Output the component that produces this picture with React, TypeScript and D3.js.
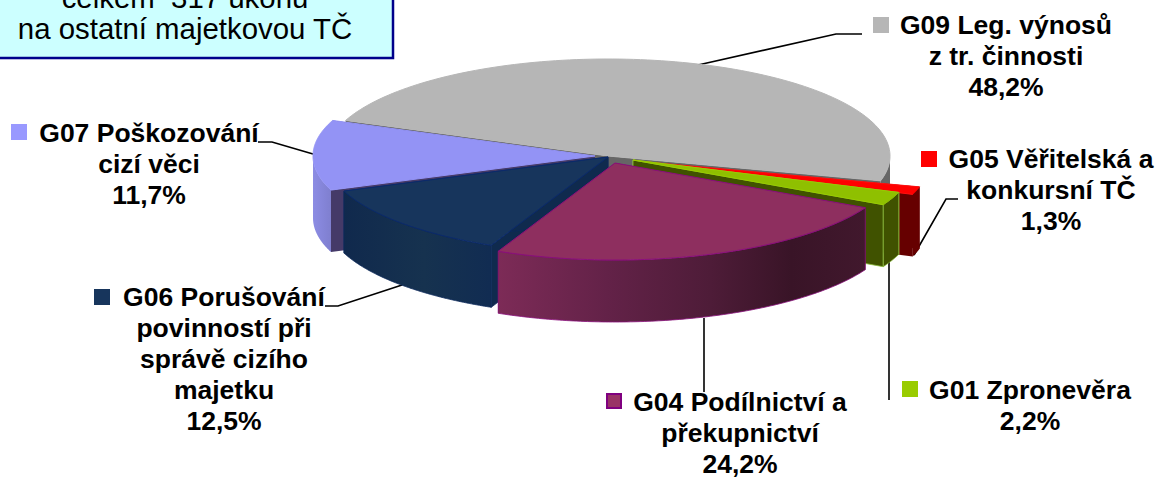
import React from "react";
import * as d3 from "d3";

const categories = ["G09", "G05", "G01", "G04", "G06", "G07"];
const shares = [48.2, 1.3, 2.2, 24.2, 12.5, 11.7];
const shareLabels = ["48,2%", "1,3%", "2,2%", "24,2%", "12,5%", "11,7%"];
const labelLines: string[][] = [
  ["G09 Leg. výnosů", "z tr. činnosti"],
  ["G05 Věřitelská a", "konkursní TČ"],
  ["G01 Zpronevěra"],
  ["G04 Podílnictví a", "překupnictví"],
  ["G06 Porušování", "povinností při", "správě cizího", "majetku"],
  ["G07 Poškozování", "cizí věci"],
];
const boxLines = ["celkem  317 úkonů", "na ostatní majetkovou TČ"];

// layout and styling, keyed by category
const RX = 282, RY = 97, DEPTH = 62;
const START_DEG = 291.5;
const paintOrder = ["G09", "G07", "G06", "G05", "G01", "G04"];
const apex: Record<string, [number, number]> = {
  G09: [608, 156], G05: [647, 162], G01: [633, 160], G04: [615, 163], G06: [608, 157], G07: [595, 156],
};
const style: Record<string, any> = {
  G09: { top: "#b6b6b6", stroke: "#b6b6b6", radial: "#666666", wall: "#666666", key: "#b6b6b6" },
  G05: { top: "#ff0000", stroke: "#ff1010", radial: "#660000", wall: "#660000", key: "#ff0000" },
  G01: { top: "#8fc000", stroke: "#99cc00", radial: "#405200", wall: "#405200", key: "#99cc00", wallStroke: "#8fc040" },
  G04: { top: "#8e2f5f", stroke: "#8a0f7c", radial: "#3f182c", wall: "url(#wallG04)", key: "#993366", keyStroke: "#800080" },
  G06: { top: "#17355c", stroke: "#0b2a6c", radial: "#0f2a4e", wall: "url(#wallG06)", key: "#17355c", wallStroke: "#0d2a5c" },
  G07: { top: "#9393f5", stroke: "#9393f5", radial: "#453a68", wall: "url(#wallG07)", key: "#9999ff" },
};
const labelPos: Record<string, { cx: number; y: number; key: [number, number] }> = {
  G09: { cx: 1006, y: 34, key: [873, 17] },
  G05: { cx: 1051, y: 168, key: [921, 151] },
  G01: { cx: 1030, y: 399, key: [902, 381] },
  G04: { cx: 740, y: 411, key: [606, 393] },
  G06: { cx: 224, y: 306, key: [94, 289] },
  G07: { cx: 149, y: 142, key: [11, 124] },
};
const leaders: [number, number][][] = [
  [[698, 65], [836, 34], [862, 34]],
  [[914, 255], [946, 199], [958, 199]],
  [[889, 262], [889, 400]],
  [[704, 318], [704, 392]],
  [[402, 285], [338, 306], [325, 306]],
  [[313, 154], [272, 142], [258, 142]],
];

const FONT = "'Liberation Sans', Arial, sans-serif";
const LINE = 31;

const toRad = (d: number) => (d * Math.PI) / 180;

export default function App() {
  const pie = d3.pie<number>().sort(null).startAngle(toRad(START_DEG)).endAngle(toRad(START_DEG + 360));
  const arcs = pie(shares);
  const line = d3.line<[number, number]>();

  const slices = new Map(
    categories.map((c, i) => {
      const a0 = arcs[i].startAngle, a1 = arcs[i].endAngle;
      const [cx, cy] = apex[c];
      const pt = (a: number, dz = 0): [number, number] => [cx + RX * Math.sin(a), cy - RY * Math.cos(a) + dz];
      const steps = d3.range(0, 121).map((k) => a0 + ((a1 - a0) * k) / 120);
      const top = line([[cx, cy], ...steps.map((a) => pt(a))])! + "Z";
      const radial0 = line([[cx, cy], pt(a0), pt(a0, DEPTH), [cx, cy + DEPTH]])! + "Z";
      const radial1 = line([[cx, cy], pt(a1), pt(a1, DEPTH), [cx, cy + DEPTH]])! + "Z";
      const front = steps.filter((a) => Math.cos(a) <= 0);
      const wall = front.length
        ? line([...front.map((a) => pt(a)), ...[...front].reverse().map((a) => pt(a, DEPTH))])! + "Z"
        : null;
      return [c, { top, radial0, radial1, wall }];
    })
  );

  return (
    <svg width={1160} height={478} style={{ position: "absolute", left: 0, top: 0 }} fontFamily={FONT}>
      <defs>
        <linearGradient id="wallG04" gradientUnits="userSpaceOnUse" x1={497} x2={865} y1={0} y2={0}>
          <stop offset="0" stopColor="#7d2b57" />
          <stop offset="0.3" stopColor="#632248" />
          <stop offset="0.58" stopColor="#4e1c38" />
          <stop offset="0.8" stopColor="#391427" />
          <stop offset="1" stopColor="#41182d" />
        </linearGradient>
        <linearGradient id="wallG06" gradientUnits="userSpaceOnUse" x1={343} x2={490} y1={0} y2={0}>
          <stop offset="0" stopColor="#10294d" />
          <stop offset="0.55" stopColor="#16324f" />
          <stop offset="1" stopColor="#112c52" />
        </linearGradient>
        <linearGradient id="wallG07" gradientUnits="userSpaceOnUse" x1={313} x2={331} y1={0} y2={0}>
          <stop offset="0" stopColor="#8c8ce4" />
          <stop offset="1" stopColor="#7f7fcf" />
        </linearGradient>
      </defs>

      <rect x={-8} y={-30} width={401} height={88} fill="#ccffff" stroke="#00008b" strokeWidth={2.5} />
      <rect x={0} y={59} width={394} height={1} fill="#b8b8e0" />
      {boxLines.map((t, i) => (
        <text key={t} x={185} y={8 + i * LINE} textAnchor="middle" fontSize={29.4} fill="#000" style={{ whiteSpace: "pre" }}>
          {t}
        </text>
      ))}

      {leaders.map((pts, i) => (
        <path key={i} d={line(pts)!} fill="none" stroke="#000" strokeWidth={1.6} />
      ))}

      {paintOrder.map((c) => {
        const s = slices.get(c)!;
        const st = style[c];
        const edge = st.wallStroke ?? "none";
        return (
          <g key={c}>
            <path d={s.radial0} fill={st.radial} stroke={edge} strokeWidth={0.8} />
            <path d={s.radial1} fill={st.radial} stroke={edge} strokeWidth={0.8} />
            {s.wall && <path d={s.wall} fill={st.wall} stroke={c === "G04" ? st.stroke : edge} strokeWidth={0.8} />}
            <path d={s.top} fill={st.top} stroke={st.stroke} strokeWidth={1} />
          </g>
        );
      })}

      {categories.map((c, i) => {
        const p = labelPos[c];
        const st = style[c];
        const lines = [...labelLines[i], shareLabels[i]];
        return (
          <g key={c}>
            <rect
              x={p.key[0] + (st.keyStroke ? 1 : 0)}
              y={p.key[1] + (st.keyStroke ? 1 : 0)}
              width={st.keyStroke ? 14 : 16}
              height={st.keyStroke ? 14 : 16}
              fill={st.key}
              stroke={st.keyStroke ?? "none"}
              strokeWidth={2}
            />
            {lines.map((t, k) => (
              <text key={k} x={p.cx} y={p.y + k * LINE} textAnchor="middle" fontSize={26.5} fontWeight="bold" fill="#000">
                {t}
              </text>
            ))}
          </g>
        );
      })}
    </svg>
  );
}
